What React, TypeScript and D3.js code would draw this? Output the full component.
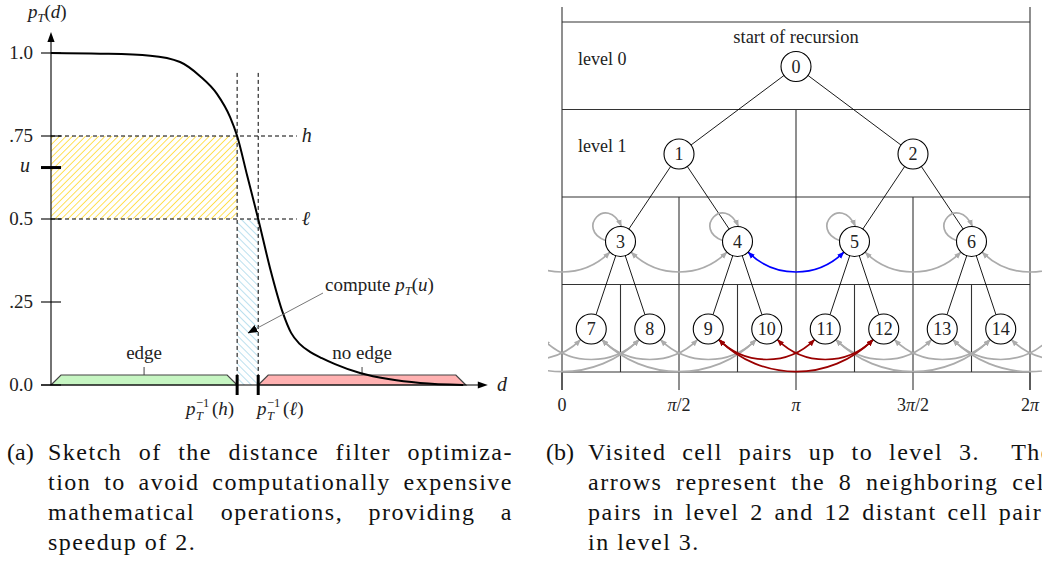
import React, { useLayoutEffect, useRef, useState } from 'react';
import * as d3 from 'd3';

const FONT = '"Liberation Serif", "DejaVu Serif", "Times New Roman", Times, "Noto Serif", serif';

// ---------------- (a) distance filter sketch: data ----------------
const curveD = [0, 1.12, 2.26, 2.94, 3.39, 3.78, 4.08, 4.24, 4.47, 4.72, 4.99, 5.28, 5.47, 5.67, 5.9, 6.17, 6.47, 7.04, 7.72, 8.41, 9.39];
const curveP = [1.0, 0.998, 0.992, 0.973, 0.931, 0.877, 0.807, 0.75, 0.63, 0.5, 0.352, 0.218, 0.157, 0.123, 0.1, 0.081, 0.063, 0.036, 0.017, 0.006, 0];
const yTickValues = [0, 0.25, 0.5, 0.75, 1.0];
const yTickLabels = ['0.0', '.25', '0.5', '.75', '1.0'];
const thresholdH = 0.75;
const thresholdL = 0.5;
const sampleU = 0.655;
const invH = 4.24;
const invL = 4.72;
const guideTop = 0.94;
const guideRight = 5.6;
const edgeRange = [0, invH];
const noEdgeRange = [invL, 9.45];
const regionLabels = ['edge', 'no edge'];

// ---------------- (b) recursion: data ----------------
const levels = [0, 1, 2, 3];
const levelLabels = ['level 0', 'level 1'];
const angleTicks = [0, Math.PI / 2, Math.PI, (3 * Math.PI) / 2, 2 * Math.PI];
const angleTickLabels = ['0', 'π/2', 'π', '3π/2', '2π'];
const neighborPairsL2 = [[0, 1], [1, 2], [2, 3], [3, 4]];
const highlightL2 = [1];
const distantPairsL3 = [[0, 2], [0, 3], [1, 3], [2, 4], [2, 5], [3, 5], [4, 6], [4, 7], [5, 7], [6, 8], [6, 9], [7, 9]];
const highlightL3 = [3, 4, 5];

const captionA = [
  'Sketch of the distance filter optimiza-',
  'tion to avoid computationally expensive',
  'mathematical operations, providing a',
  'speedup of 2.',
];
const captionB = [
  'Visited cell pairs up to level 3.  The',
  'arrows represent the 8 neighboring cell',
  'pairs in level 2 and 12 distant cell pairs',
  'in level 3.',
];

// ---------------- scales ----------------
const xL = d3.scaleLinear().domain([0, 10]).range([51, 490]);
const yL = d3.scaleLinear().domain([0, 1]).range([385, 53]);
const theta = d3.scaleLinear().domain([0, 2 * Math.PI]).range([562, 1030]);
const rowY = d3.scaleLinear().domain([0, 4]).range([22, 372]);
const R = 15;

const nodeX = (level: number, j: number) => theta(((j + 0.5) * 2 * Math.PI) / Math.pow(2, level));
const nodeY = (level: number) => rowY(level) + 44.5;

function arcPath(x1: number, x2: number, y: number) {
  const c = Math.SQRT1_2;
  const sx = x1 + R * c, sy = y + R * c;
  const ex = x2 - R * c, ey = y + R * c;
  const L = 0.3915 * (ex - sx);
  return `M${sx},${sy} C${sx + L * c},${sy + L * c} ${ex - L * c},${ey + L * c} ${ex},${ey}`;
}

function loopPath(cx: number, cy: number) {
  return `M${cx - 15},${cy - 1} C${cx - 45},${cy - 12} ${cx - 14},${cy - 48} ${cx + 1},${cy - 15}`;
}

function MathText({ label }: { label: string }) {
  return (
    <>
      {label.split('').map((ch, i) =>
        ch === 'π' ? (
          <tspan key={i} fontStyle="italic">π</tspan>
        ) : (
          <tspan key={i}>{ch}</tspan>
        )
      )}
    </>
  );
}

function InvLabel({ x, y, arg }: { x: number; y: number; arg: string }) {
  return (
    <g fill="#222">
      <text x={x} y={y} fontSize={19} fontStyle="italic">p</text>
      <text x={x + 10} y={y + 5} fontSize={12.5} fontStyle="italic">T</text>
      <text x={x + 10} y={y - 8} fontSize={12.5}>−1</text>
      <text x={x + 26} y={y} fontSize={19}>
        (<tspan fontStyle="italic">{arg}</tspan>)
      </text>
    </g>
  );
}

function CaptionLine({ x, y, width, text, justify }: { x: number; y: number; width: number; text: string; justify: boolean }) {
  const ref = useRef<SVGTextElement>(null);
  const [ws, setWs] = useState(0);
  useLayoutEffect(() => {
    if (!justify || !ref.current) return;
    const el = ref.current;
    el.style.wordSpacing = '0px';
    const L = el.getComputedTextLength();
    const spaces = (text.match(/ /g) || []).length;
    el.style.wordSpacing = '';
    if (spaces > 0) setWs((width - L) / spaces);
  }, [text, width, justify]);
  return (
    <text ref={ref} x={x} y={y} style={{ wordSpacing: justify ? `${ws}px` : undefined, whiteSpace: 'pre', letterSpacing: '1.5px' }}>
      {text}
    </text>
  );
}

export default function App() {
  const curvePts = curveD.map((d, i) => [d, curveP[i]] as [number, number]);
  const line = d3
    .line<[number, number]>()
    .x((d) => xL(d[0]))
    .y((d) => yL(d[1]))
    .curve(d3.curveMonotoneX);

  const trap = (r: number[]) => {
    const x0 = xL(r[0]), x1 = xL(r[1]);
    const yb = yL(0), yt = yL(0) - 10;
    return `M${x0},${yb} L${x0 + 10},${yt} L${x1 - 10},${yt} L${x1},${yb} Z`;
  };

  const treeEdges: { x1: number; y1: number; x2: number; y2: number }[] = [];
  levels.slice(0, 3).forEach((k) => {
    for (let j = 0; j < Math.pow(2, k); j++) {
      const px = nodeX(k, j), py = nodeY(k);
      [2 * j, 2 * j + 1].forEach((cj) => {
        const cx = nodeX(k + 1, cj), cy = nodeY(k + 1);
        const dx = cx - px, dy = cy - py;
        const len = Math.hypot(dx, dy);
        treeEdges.push({
          x1: px + (R * dx) / len,
          y1: py + (R * dy) / len,
          x2: cx - (R * dx) / len,
          y2: cy - (R * dy) / len,
        });
      });
    }
  });

  const buildArcs = (level: number, pairs: number[][], hl: number[]) => {
    const n = Math.pow(2, level);
    const y = nodeY(level);
    const out: { d: string; hl: boolean; key: string }[] = [];
    pairs.forEach(([a, b], i) => {
      out.push({ d: arcPath(nodeX(level, a), nodeX(level, b), y), hl: hl.includes(i), key: `${level}-${i}` });
      if (b >= n) {
        out.push({ d: arcPath(nodeX(level, a - n), nodeX(level, b - n), y), hl: hl.includes(i), key: `${level}-${i}w` });
      }
    });
    return out;
  };
  const arcsL2 = buildArcs(2, neighborPairsL2, highlightL2);
  const arcsL3 = buildArcs(3, distantPairsL3, highlightL3);

  const nodes: { x: number; y: number; id: number }[] = [];
  levels.forEach((k) => {
    for (let j = 0; j < Math.pow(2, k); j++) {
      nodes.push({ x: nodeX(k, j), y: nodeY(k), id: Math.pow(2, k) - 1 + j });
    }
  });

  const gridStroke = '#333';
  const grey = '#ababab';

  return (
    <svg
      width={1042}
      height={568}
      viewBox="0 0 1042 568"
      style={{ position: 'absolute', left: 0, top: 0, background: '#fff', fontFamily: FONT }}
    >
      <defs>
        <pattern id="hatchY" patternUnits="userSpaceOnUse" width="4.6" height="10" patternTransform="rotate(45)">
          <line x1="0" y1="0" x2="0" y2="10" stroke="#FFD000" strokeWidth="1.3" />
        </pattern>
        <pattern id="hatchB" patternUnits="userSpaceOnUse" width="5" height="10" patternTransform="rotate(-45)">
          <line x1="0" y1="0" x2="0" y2="10" stroke="#8fcbe2" strokeWidth="1.2" />
        </pattern>
        <marker id="ahGrey" viewBox="0 0 10 10" refX="9.5" refY="5" markerWidth="7" markerHeight="7" markerUnits="userSpaceOnUse" orient="auto-start-reverse">
          <path d="M0,1 L10,5 L0,9 z" fill={grey} />
        </marker>
        <marker id="ahBlue" viewBox="0 0 10 10" refX="9.5" refY="5" markerWidth="7" markerHeight="7" markerUnits="userSpaceOnUse" orient="auto-start-reverse">
          <path d="M0,1 L10,5 L0,9 z" fill="#0000ff" />
        </marker>
        <marker id="ahRed" viewBox="0 0 10 10" refX="9.5" refY="5" markerWidth="7" markerHeight="7" markerUnits="userSpaceOnUse" orient="auto-start-reverse">
          <path d="M0,1 L10,5 L0,9 z" fill="#9a0000" />
        </marker>
        <marker id="ahBlack" viewBox="0 0 10 10" refX="9.5" refY="5" markerWidth="10" markerHeight="10" markerUnits="userSpaceOnUse" orient="auto">
          <path d="M0,1 L10,5 L0,9 z" fill="#000" />
        </marker>
        <clipPath id="clipB">
          <rect x={548} y={0} width={494} height={568} />
        </clipPath>
      </defs>

      {/* ===================== (a) ===================== */}
      <g>
        <rect x={xL(0)} y={yL(thresholdH)} width={xL(invH) - xL(0)} height={yL(thresholdL) - yL(thresholdH)} fill="url(#hatchY)" />
        <rect x={xL(invH)} y={yL(thresholdL)} width={xL(invL) - xL(invH)} height={yL(0) - yL(thresholdL)} fill="url(#hatchB)" />

        <path d={trap(edgeRange)} fill="#c6f5c2" stroke="#444" strokeWidth={1.2} />
        <path d={trap(noEdgeRange)} fill="#ffb1b1" stroke="#444" strokeWidth={1.2} />
        {[edgeRange, noEdgeRange].map((r, i) => {
          const cx = (xL(r[0]) + xL(r[1])) / 2;
          return (
            <g key={i}>
              <line x1={cx} x2={cx} y1={yL(0) - 10} y2={yL(0) - 18} stroke="#444" strokeWidth={1} />
              <text x={cx} y={359} fontSize={19} textAnchor="middle" fill="#222">{regionLabels[i]}</text>
            </g>
          );
        })}

        <g stroke="#000" strokeWidth={1} strokeDasharray="4,3" fill="none">
          <line x1={xL(0)} x2={xL(guideRight)} y1={yL(thresholdH)} y2={yL(thresholdH)} />
          <line x1={xL(0)} x2={xL(guideRight)} y1={yL(thresholdL)} y2={yL(thresholdL)} />
          <line x1={xL(invH)} x2={xL(invH)} y1={yL(guideTop)} y2={yL(0)} />
          <line x1={xL(invL)} x2={xL(invL)} y1={yL(guideTop)} y2={yL(0)} />
        </g>
        <text x={xL(guideRight) + 5} y={yL(thresholdH) + 6} fontSize={20} fontStyle="italic" fill="#222">h</text>
        <text x={xL(guideRight) + 5} y={yL(thresholdL) + 6} fontSize={20} fontStyle="italic" fill="#222">ℓ</text>

        <line x1={xL(0)} x2={xL(0)} y1={yL(0)} y2={yL(1.04)} stroke="#000" strokeWidth={1.1} />
        <path d={`M${xL(0)},${yL(1.063)} L${xL(0) - 3.6},${yL(1.063) + 10} L${xL(0) + 3.6},${yL(1.063) + 10} Z`} fill="#000" />
        <line x1={xL(0) - 10} x2={xL(9.8)} y1={yL(0)} y2={yL(0)} stroke="#000" strokeWidth={1.1} />
        <path d={`M${xL(9.95)},${yL(0)} L${xL(9.95) - 10},${yL(0) - 3.6} L${xL(9.95) - 10},${yL(0) + 3.6} Z`} fill="#000" />
        <text x={497} y={391} fontSize={20} fontStyle="italic" fill="#222">d</text>

        <text x={28} y={18} fontSize={19} fill="#222">
          <tspan fontStyle="italic">p</tspan>
          <tspan fontStyle="italic" fontSize={12.5} dy={4}>T</tspan>
          <tspan dy={-4}>(</tspan>
          <tspan fontStyle="italic">d</tspan>
          <tspan>)</tspan>
        </text>

        {yTickValues.map((v, i) => (
          <g key={i}>
            <line x1={xL(0) - 10} x2={xL(0) + 10} y1={yL(v)} y2={yL(v)} stroke="#000" strokeWidth={1.1} />
            <text x={33} y={yL(v) + 6} fontSize={19} textAnchor="end" fill="#222">{yTickLabels[i]}</text>
          </g>
        ))}
        <line x1={xL(0) - 10} x2={xL(0) + 10} y1={yL(sampleU)} y2={yL(sampleU)} stroke="#000" strokeWidth={3} />
        <text x={30} y={yL(sampleU) + 4} fontSize={20} fontStyle="italic" textAnchor="end" fill="#222">u</text>

        {[invH, invL].map((v, i) => (
          <line key={i} x1={xL(v)} x2={xL(v)} y1={yL(0) - 10} y2={yL(0) + 10} stroke="#000" strokeWidth={3} />
        ))}
        <InvLabel x={186} y={415} arg="h" />
        <InvLabel x={257} y={415} arg="ℓ" />

        <path d={line(curvePts) || ''} fill="none" stroke="#000" strokeWidth={2} />

        <line x1={323} y1={293} x2={248} y2={333} stroke="#777" strokeWidth={1} markerEnd="url(#ahBlack)" />
        <text x={325} y={291} fontSize={19} fill="#222">
          compute <tspan fontStyle="italic">p</tspan>
          <tspan fontStyle="italic" fontSize={12.5} dy={4}>T</tspan>
          <tspan dy={-4}>(</tspan>
          <tspan fontStyle="italic">u</tspan>
          <tspan>)</tspan>
        </text>
      </g>

      {/* ===================== (b) ===================== */}
      <g>
        <g stroke={gridStroke} strokeWidth={1.1}>
          {[0, 1, 2, 3, 4].map((k) => (
            <line key={`h${k}`} x1={theta(0)} x2={theta(2 * Math.PI)} y1={rowY(k)} y2={rowY(k)} />
          ))}
          <line x1={theta(0)} x2={theta(0)} y1={7} y2={390} />
          <line x1={theta(2 * Math.PI)} x2={theta(2 * Math.PI)} y1={7} y2={390} />
          {levels.slice(1).map((k) => {
            const n = Math.pow(2, k);
            return d3.range(1, n).map((j) => (
              <line key={`v${k}-${j}`} x1={theta((j * 2 * Math.PI) / n)} x2={theta((j * 2 * Math.PI) / n)} y1={rowY(k)} y2={rowY(k + 1)} />
            ));
          })}
          {angleTicks.map((t, i) => (
            <line key={`t${i}`} x1={theta(t)} x2={theta(t)} y1={rowY(4)} y2={390} />
          ))}
        </g>
        {angleTicks.map((t, i) => (
          <text key={i} x={theta(t)} y={411} fontSize={18} textAnchor="middle" fill="#222">
            <MathText label={angleTickLabels[i]} />
          </text>
        ))}

        {levelLabels.map((l, k) => (
          <text key={k} x={578} y={nodeY(k) - 2} fontSize={18} fill="#222">{l}</text>
        ))}
        <text x={theta(Math.PI)} y={43} fontSize={18.5} textAnchor="middle" fill="#222">start of recursion</text>

        <g stroke="#000" strokeWidth={0.9}>
          {treeEdges.map((e, i) => (
            <line key={i} x1={e.x1} y1={e.y1} x2={e.x2} y2={e.y2} />
          ))}
        </g>

        <g clipPath="url(#clipB)" fill="none" strokeWidth={1.7}>
          {nodes
            .filter((n) => n.id >= 3 && n.id <= 6)
            .map((n) => (
              <path key={`loop${n.id}`} d={loopPath(n.x, n.y)} stroke={grey} markerEnd="url(#ahGrey)" />
            ))}
          {[...arcsL2, ...arcsL3]
            .filter((a) => !a.hl)
            .map((a) => (
              <path key={a.key} d={a.d} stroke={grey} markerStart="url(#ahGrey)" markerEnd="url(#ahGrey)" />
            ))}
          {arcsL2
            .filter((a) => a.hl)
            .map((a) => (
              <path key={a.key} d={a.d} stroke="#0000ff" markerStart="url(#ahBlue)" markerEnd="url(#ahBlue)" />
            ))}
          {arcsL3
            .filter((a) => a.hl)
            .map((a) => (
              <path key={a.key} d={a.d} stroke="#9a0000" markerStart="url(#ahRed)" markerEnd="url(#ahRed)" />
            ))}
        </g>

        {nodes.map((n) => (
          <g key={n.id}>
            <circle cx={n.x} cy={n.y} r={R} fill="none" stroke="#000" strokeWidth={1.1} />
            <text x={n.x} y={n.y + 6} fontSize={18} textAnchor="middle" fill="#222">{n.id}</text>
          </g>
        ))}
      </g>

      {/* ===================== captions ===================== */}
      <g fontSize={24} fill="#111">
        <text x={7} y={460}>(a)</text>
        {captionA.map((t, i) => (
          <CaptionLine key={i} x={48} y={460 + 30 * i} width={465} text={t} justify={i < captionA.length - 1} />
        ))}
        <text x={546} y={460}>(b)</text>
        {captionB.map((t, i) => (
          <CaptionLine key={i} x={588} y={460 + 30 * i} width={465} text={t} justify={i < captionB.length - 1} />
        ))}
      </g>
    </svg>
  );
}
